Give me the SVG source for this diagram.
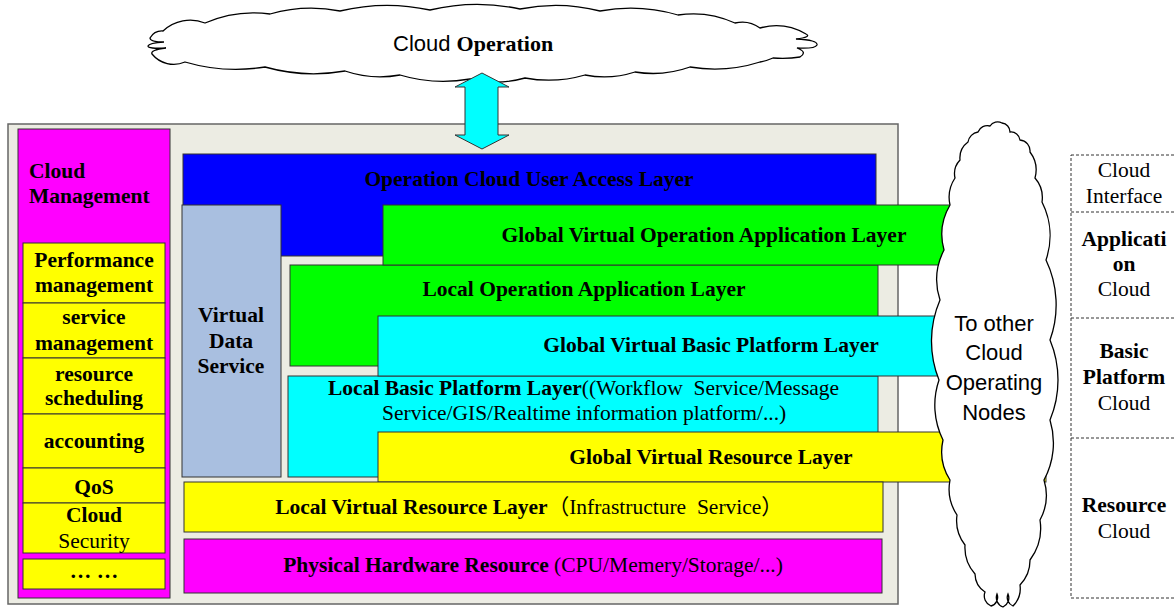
<svg xmlns="http://www.w3.org/2000/svg" width="1175" height="610" viewBox="0 0 1175 610">
<style>
.b{font-family:"Liberation Serif","Noto Sans CJK SC",serif;font-weight:bold;font-size:21.5px;fill:#000}
.n{font-family:"Liberation Serif","Noto Sans CJK SC",serif;font-weight:normal;font-size:21.5px;fill:#000}
.s{font-family:"Liberation Sans",Arial,sans-serif;font-size:22px;fill:#000}
.m{text-anchor:middle}
.lay{stroke:#333;stroke-width:1}
.cloud{fill:#fff;stroke:#000;stroke-width:1.3}
.dash{fill:none;stroke:#333;stroke-width:1;stroke-dasharray:3,2}
</style>
<rect width="1175" height="610" fill="#fff"/>
<g id="container"><rect x="8" y="124" width="890" height="480" fill="#ECECE3" stroke="#666" stroke-width="1.5"/></g>

<g id="cloud-operation">
<path class="cloud" d="M163,31 A40,40 0 0 1 205,23 A120,120 0 0 1 270,14 A150,150 0 0 1 340,11 A200,200 0 0 1 430,10 A200,200 0 0 1 520,9 A180,180 0 0 1 600,11 A170,170 0 0 1 678,15 A100,100 0 0 1 735,23 A30,30 0 0 1 760,28 A60,60 0 0 1 806,34 Q812,37 796,39 Q818,40 817,45 Q815,49 797,48 Q808,52 800,57 Q788,59 773,58 A60,60 0 0 1 760,62 A150,150 0 0 1 690,67 A110,110 0 0 1 635,72 A100,100 0 0 1 585,75 A130,130 0 0 1 525,78 A110,110 0 0 1 470,79 A150,150 0 0 1 400,75 A110,110 0 0 1 345,71 A180,180 0 0 1 265,67 A180,180 0 0 1 185,62 A28,28 0 0 1 152,54 Q150,50 166,48 Q148,49 148,46 Q149,43 164,42 Q150,42 150,38 A14,14 0 0 1 163,31 Z"/>
<text x="393" y="51" class="s">Cloud <tspan class="b" style="font-size:22px">Operation</tspan></text>
</g>

<g id="connectors">
<polygon points="482,73 509,87 498,87 498,135 509,135 482,149 455,135 465,135 465,87 455,87" fill="#00FFFF" stroke="#333" stroke-width="1"/>
</g>

<g id="cloud-management">
<rect x="18" y="129" width="152" height="469" fill="#FF00FF" stroke="#333"/>
<text x="29" y="178" class="b">Cloud</text>
<text x="29" y="203" class="b">Management</text>
</g>
<g id="performance-management"><rect x="23" y="243" width="142" height="60" fill="#FFFF00" class="lay"/>
<text x="94" y="267" class="b m">Performance</text><text x="94" y="292" class="b m">management</text></g>
<g id="service-management"><rect x="23" y="303" width="142" height="55" fill="#FFFF00" class="lay"/>
<text x="94" y="324" class="b m">service</text><text x="94" y="350" class="b m">management</text></g>
<g id="resource-scheduling"><rect x="23" y="358" width="142" height="56" fill="#FFFF00" class="lay"/>
<text x="94" y="381" class="b m">resource</text><text x="94" y="405" class="b m">scheduling</text></g>
<g id="accounting"><rect x="23" y="414" width="142" height="54" fill="#FFFF00" class="lay"/>
<text x="94" y="448" class="b m">accounting</text></g>
<g id="qos"><rect x="23" y="468" width="142" height="35" fill="#FFFF00" class="lay"/>
<text x="94" y="494" class="b m">QoS</text></g>
<g id="cloud-security"><rect x="23" y="503" width="142" height="50" fill="#FFFF00" class="lay"/>
<text x="94" y="522" class="b m">Cloud</text><text x="94" y="548" class="n m">Security</text></g>
<g id="etc"><rect x="23" y="559" width="142" height="30" fill="#FFFF00" class="lay"/>
<text x="94" y="578" class="b m">… …</text></g>

<g id="user-access-layer"><rect x="183" y="154" width="693" height="102" fill="#0000FF" class="lay"/>
<text x="529" y="186" class="b m">Operation Cloud User Access Layer</text></g>
<g id="virtual-data-service"><rect x="182" y="205" width="99" height="272" fill="#A9BFE0" class="lay"/>
<text x="231" y="322" class="b m">Virtual</text><text x="231" y="348" class="b m">Data</text><text x="231" y="373" class="b m">Service</text></g>
<g id="local-operation-application"><rect x="290" y="265" width="588" height="101" fill="#00FF00" class="lay"/>
<text x="584" y="296" class="b m">Local Operation Application Layer</text></g>
<g id="global-virtual-operation-application"><rect x="383" y="205" width="600" height="60" fill="#00FF00" class="lay"/>
<text x="704" y="242" class="b m">Global Virtual Operation Application Layer</text></g>
<g id="local-basic-platform"><rect x="288" y="376" width="590" height="101" fill="#00FFFF" class="lay"/>
<text x="328" y="395" class="b">Local Basic Platform Layer<tspan class="n">((Workflow&#160; Service/Message</tspan></text>
<text x="382" y="420" class="n">Service/GIS/Realtime information platform/...)</text></g>
<g id="global-virtual-basic-platform"><rect x="378" y="316" width="605" height="60" fill="#00FFFF" class="lay"/>
<text x="711" y="352" class="b m">Global Virtual Basic Platform Layer</text></g>
<g id="global-virtual-resource"><rect x="378" y="432" width="668" height="50" fill="#FFFF00" class="lay"/>
<text x="711" y="464" class="b m">Global Virtual Resource Layer</text></g>
<g id="local-virtual-resource"><rect x="184" y="482" width="699" height="50" fill="#FFFF00" class="lay"/>
<text x="529" y="514" class="b m">Local Virtual Resource Layer<tspan class="n">（Infrastructure&#160; Service）</tspan></text></g>
<g id="physical-hardware"><rect x="184" y="539" width="698" height="54" fill="#FF00FF" class="lay"/>
<text x="533" y="572" class="b m">Physical Hardware Resource <tspan class="n">(CPU/Memery/Storage/...)</tspan></text></g>

<g id="other-nodes-cloud">
<path class="cloud" d="M990,126 A9,9 0 0 1 1002,123 A9,9 0 0 1 1010,132 A9,9 0 0 1 1020,140 A11,11 0 0 1 1030,152 A30,30 0 0 1 1035,178 A30,30 0 0 1 1042,202 A75,75 0 0 1 1046,260 A104,104 0 0 1 1050,340 A104,104 0 0 1 1050,420 A78,78 0 0 1 1044,480 A52,52 0 0 1 1040,520 A53,53 0 0 1 1030,560 A35,35 0 0 1 1020,585 A25,25 0 0 1 1013,606 A9,9 0 0 1 1008,594 A10,10 0 0 1 1003,607 A10,10 0 0 1 997,594 A9,9 0 0 1 991,606 A11,11 0 0 1 985,592 A22,22 0 0 1 975,574 A40,40 0 0 1 965,545 A40,40 0 0 1 957,515 A47,47 0 0 1 950,480 A53,53 0 0 1 943,440 A78,78 0 0 1 939,380 A104,104 0 0 1 940,300 A65,65 0 0 1 944,250 A58,58 0 0 1 950,205 A35,35 0 0 1 955,178 A20,20 0 0 1 960,160 A20,20 0 0 1 968,142 A12,12 0 0 1 978,132 A10,10 0 0 1 990,126 Z"/>
<text x="994" y="331" class="s m">To other</text>
<text x="994" y="360" class="s m">Cloud</text>
<text x="994" y="390" class="s m">Operating</text>
<text x="994" y="420" class="s m">Nodes</text>
</g>

<g id="cloud-layers-legend">
<rect x="1071" y="155" width="120" height="443" class="dash"/>
<line x1="1071" y1="212" x2="1175" y2="212" class="dash"/>
<line x1="1071" y1="318" x2="1175" y2="318" class="dash"/>
<line x1="1071" y1="438" x2="1175" y2="438" class="dash"/>
<text x="1124" y="177" class="n m">Cloud</text>
<text x="1124" y="203" class="n m">Interface</text>
<text x="1124" y="246" class="b m">Applicati</text>
<text x="1124" y="271" class="b m">on</text>
<text x="1124" y="296" class="n m">Cloud</text>
<text x="1124" y="358" class="b m">Basic</text>
<text x="1124" y="384" class="b m">Platform</text>
<text x="1124" y="410" class="n m">Cloud</text>
<text x="1124" y="512" class="b m">Resource</text>
<text x="1124" y="538" class="n m">Cloud</text>
</g>
</svg>
